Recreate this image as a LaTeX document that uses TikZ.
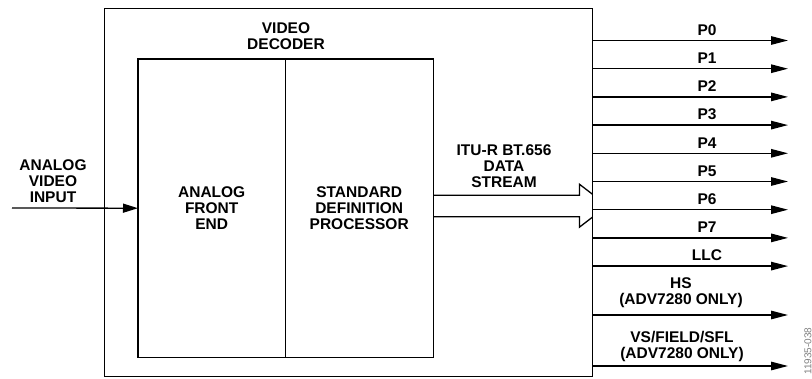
\documentclass[tikz,border=0pt]{standalone}
\usepackage{fontspec}
\setmainfont{Liberation Sans}
\usetikzlibrary{arrows.meta}
\begin{document}
\begin{tikzpicture}[x=1pt,y=-1pt,
  lbl/.style={font=\bfseries\fontsize{15.5}{16}\selectfont, align=center, inner sep=0pt},
  wire/.style={line width=1.3pt},
  sig/.style={line width=1.3pt, -{Triangle[length=17pt,width=8.5pt]}},
  blk/.style={lbl, minimum height=298pt, anchor=north west},
]
\useasboundingbox (0,0) rectangle (812,379);
% outer decoder box
\node[draw, line width=1.3pt, minimum width=488pt, minimum height=368pt, inner sep=0pt, anchor=north west] (dec) at (104,8) {};
\node[lbl] (dectxt) at (286,36) {VIDEO\\DECODER};
% inner blocks
\node[blk, minimum width=147pt] (afe) at (138,59) {ANALOG\\FRONT\\END};
\node[blk, minimum width=148pt] (sdp) at (285,59) {STANDARD\\DEFINITION\\PROCESSOR};
\draw[wire] (afe.north west) rectangle (sdp.south east);
\draw[line width=0.7pt] (afe.north east) -- (afe.south east);
% input
\coordinate (in) at (12,208);
\draw[line width=1.3pt, -{Triangle[length=15pt,width=9pt]}] (in) -- (afe.west);
\node[lbl] (intxt) at (53,181) {ANALOG\\VIDEO\\INPUT};
% hollow data stream arrow
\draw[wire] ([yshift=13pt]sdp.east) -- ++(146,0) -- ++(0,-11) -- ++(13,10);
\draw[wire] ([yshift=-8.5pt]sdp.east) -- ++(146,0) -- ++(0,10.5) -- ++(13,-10);
\node[lbl] (itu) at (504,166) {ITU-R BT.656\\DATA\\STREAM};
% outputs
\foreach \t [count=\i from 0] in {P0,P1,P2,P3,P4,P5,P6,P7,LLC} {
  \pgfmathsetmacro\yy{40.5+28.2*\i}
  \coordinate (o\i) at (788,\yy);
  \draw[sig] (dec.east |- o\i) -- (o\i);
  \node[lbl] (l\i) at (707,\yy-10.5) {\t};
}
\coordinate (ohs) at (788,315);
\draw[sig] (dec.east |- ohs) -- (ohs);
\node[lbl] (lhs) at (681,293) {HS\\(ADV7280 ONLY)};
\coordinate (ovs) at (788,366);
\draw[sig] (dec.east |- ovs) -- (ovs);
\node[lbl] (lvs) at (682,346.5) {VS/FIELD/SFL\\(ADV7280 ONLY)};
% figure number
\node[rotate=90, font=\fontsize{10}{12}\selectfont, text=gray, inner sep=0pt] (fig) at (808,351) {11935-038};
\end{tikzpicture}
\end{document}
